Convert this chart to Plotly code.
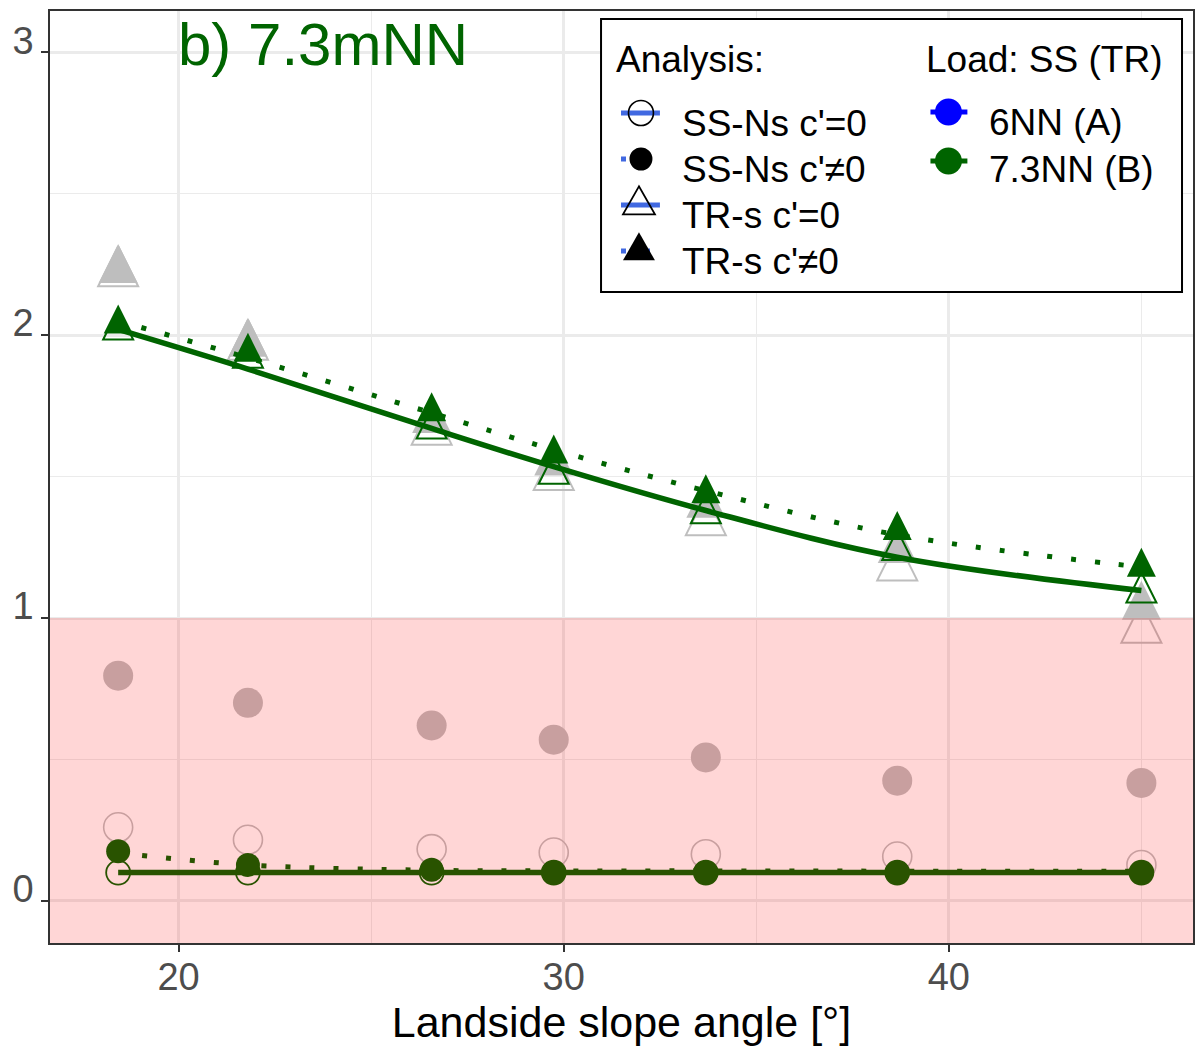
import plotly.graph_objects as go

# ---------------- data ----------------
angles = [18.43, 21.80, 26.57, 29.74, 33.69, 38.66, 45.00]

# 7.3NN (B) - green markers
ss_c0_73 = [0.10, 0.10, 0.10, 0.10, 0.10, 0.10, 0.10]
ss_c1_73 = [0.175, 0.127, 0.11, 0.10, 0.10, 0.10, 0.10]
tr_c0_73 = [2.02, 1.92, 1.67, 1.51, 1.37, 1.24, 1.09]
tr_c1_73 = [2.04, 1.94, 1.73, 1.58, 1.44, 1.31, 1.18]

# 7.3NN (B) - smoothed trend lines
ss_c0_73_fit = [0.10, 0.10, 0.10, 0.10, 0.10, 0.10, 0.10]
ss_c1_73_fit = [0.17, 0.127, 0.108, 0.106, 0.106, 0.105, 0.105]
tr_c0_73_fit = [2.02, 1.88, 1.67, 1.535, 1.38, 1.215, 1.097]
tr_c1_73_fit = [2.05, 1.92, 1.725, 1.595, 1.45, 1.294, 1.18]

# 6NN (A) - shown in grey
ss_c0_6 = [0.26, 0.216, 0.183, 0.171, 0.165, 0.157, 0.127]
ss_c1_6 = [0.796, 0.70, 0.62, 0.57, 0.507, 0.425, 0.417]
tr_c0_6 = [2.22, 1.96, 1.66, 1.50, 1.34, 1.18, 0.96]
tr_c1_6 = [2.23, 1.97, 1.70, 1.55, 1.40, 1.24, 1.04]

analysis_labels = ["SS-Ns c'=0", "SS-Ns c'\u22600", "TR-s c'=0", "TR-s c'\u22600"]
load_labels = ["6NN (A)", "7.3NN (B)"]
load_colors = ["#0000FF", "#006400"]

GREEN = "#006400"
GREY = "#BEBEBE"
FONT = "Liberation Sans, Arial, sans-serif"

W, H = 1197, 1053
ML, MR, MT, MB = 50, 2, 11, 110
PX0, PX1, PY0, PY1 = ML, W - MR, MT, H - MB


def pxx(x):
    return (x - PX0) / (PX1 - PX0)


def pxy(y):
    return (PY1 - y) / (PY1 - PY0)


def tri_marker(size, filled):
    # upward triangle centred (centroid) on the data point
    return dict(symbol="arrow-down" if filled else "arrow-down-open",
                angle=180, standoff=size * 2.0 / 3.0, size=size)


fig = go.Figure()

# grey (6NN) markers
fig.add_trace(go.Scatter(x=angles, y=ss_c0_6, mode="markers", showlegend=False,
                         marker=dict(symbol="circle-open", size=29, color=GREY,
                                     line=dict(width=1.6, color=GREY))))
fig.add_trace(go.Scatter(x=angles, y=ss_c1_6, mode="markers", showlegend=False,
                         marker=dict(symbol="circle", size=30, color=GREY,
                                     line=dict(width=0))))
m = tri_marker(40, False)
m.update(color=GREY, line=dict(width=2, color=GREY))
fig.add_trace(go.Scatter(x=angles, y=tr_c0_6, mode="markers", showlegend=False, marker=m))
m = tri_marker(39, True)
m.update(color=GREY, line=dict(width=0))
fig.add_trace(go.Scatter(x=angles, y=tr_c1_6, mode="markers", showlegend=False, marker=m))

# green open markers
fig.add_trace(go.Scatter(x=angles, y=ss_c0_73, mode="markers", showlegend=False,
                         marker=dict(symbol="circle-open", size=24, color=GREEN,
                                     line=dict(width=1.8, color=GREEN))))
m = tri_marker(30, False)
m.update(color=GREEN, line=dict(width=2, color=GREEN))
fig.add_trace(go.Scatter(x=angles, y=tr_c0_73, mode="markers", showlegend=False, marker=m))

# green trend lines
for ys, dash, w in [(ss_c0_73_fit, "solid", 5.5), (tr_c0_73_fit, "solid", 5.5),
                    (ss_c1_73_fit, "5px,19px", 5), (tr_c1_73_fit, "5px,19px", 5)]:
    fig.add_trace(go.Scatter(x=angles, y=ys, mode="lines", showlegend=False,
                             line=dict(color=GREEN, width=w, dash=dash,
                                       shape="spline", smoothing=1.0)))

# green filled markers
fig.add_trace(go.Scatter(x=angles, y=ss_c1_73, mode="markers", showlegend=False,
                         marker=dict(symbol="circle", size=24, color=GREEN,
                                     line=dict(width=0))))
m = tri_marker(29, True)
m.update(color=GREEN, line=dict(width=0))
fig.add_trace(go.Scatter(x=angles, y=tr_c1_73, mode="markers", showlegend=False, marker=m))

YMIN, YMAX = -0.149, 3.146
shapes = []
# unsafe zone (FoS < 1)
shapes.append(dict(type="rect", xref="paper", yref="y", x0=0, x1=1, y0=YMIN, y1=1.0,
                   fillcolor="rgba(255,0,0,0.16)", line=dict(width=0), layer="above"))
# legend box
shapes.append(dict(type="rect", xref="paper", yref="paper",
                   x0=pxx(602), x1=pxx(1184), y0=pxy(292), y1=pxy(19),
                   fillcolor="white", line=dict(color="black", width=2), layer="above"))

annotations = []
BLUE_LINE = "#4169E1"
LFS = 37
ana_sym_y = [113, 159, 205, 251]
ana_txt_y = [124, 170, 216, 262]
for i, lab in enumerate(analysis_labels):
    yy = ana_sym_y[i]
    dotted = i in (1, 3)
    shapes.append(dict(type="line", xref="paper", yref="paper",
                       x0=pxx(622), x1=pxx(661), y0=pxy(yy), y1=pxy(yy),
                       line=dict(color=BLUE_LINE, width=5,
                                 dash="5px,19px" if dotted else "solid"),
                       layer="above"))
    if i < 2:
        d = 25 if i == 0 else 23
        shapes.append(dict(type="circle", xref="paper", yref="paper",
                           x0=pxx(642 - d / 2), x1=pxx(642 + d / 2),
                           y0=pxy(yy + d / 2), y1=pxy(yy - d / 2),
                           fillcolor="black" if i == 1 else "rgba(0,0,0,0)",
                           line=dict(color="black", width=1.6 if i == 0 else 0),
                           layer="above"))
    else:
        cx, wdt, hgt = 640, 32, 28
        top, base = yy - hgt * 2 / 3, yy + hgt / 3
        path = "M{:.5f},{:.5f} L{:.5f},{:.5f} L{:.5f},{:.5f} Z".format(
            pxx(cx), pxy(top), pxx(cx - wdt / 2), pxy(base), pxx(cx + wdt / 2), pxy(base))
        shapes.append(dict(type="path", xref="paper", yref="paper", path=path,
                           fillcolor="black" if i == 3 else "rgba(0,0,0,0)",
                           line=dict(color="black", width=1.8 if i == 2 else 0),
                           layer="above"))
    annotations.append(dict(text=lab, xref="paper", yref="paper", x=pxx(681), y=pxy(ana_txt_y[i]),
                            xanchor="left", yanchor="middle", showarrow=False,
                            font=dict(size=LFS, color="black", family=FONT)))

load_sym_y = [112, 161]
load_txt_y = [123, 170]
for i, lab in enumerate(load_labels):
    yy = load_sym_y[i]
    c = load_colors[i]
    shapes.append(dict(type="line", xref="paper", yref="paper",
                       x0=pxx(932), x1=pxx(969), y0=pxy(yy), y1=pxy(yy),
                       line=dict(color=c, width=5), layer="above"))
    d = 27
    shapes.append(dict(type="circle", xref="paper", yref="paper",
                       x0=pxx(950 - d / 2), x1=pxx(950 + d / 2),
                       y0=pxy(yy + d / 2), y1=pxy(yy - d / 2),
                       fillcolor=c, line=dict(width=0), layer="above"))
    annotations.append(dict(text=lab, xref="paper", yref="paper", x=pxx(989), y=pxy(load_txt_y[i]),
                            xanchor="left", yanchor="middle", showarrow=False,
                            font=dict(size=LFS, color="black", family=FONT)))

annotations.append(dict(text="Analysis:", xref="paper", yref="paper", x=pxx(615), y=pxy(59),
                        xanchor="left", yanchor="middle", showarrow=False,
                        font=dict(size=LFS, color="black", family=FONT)))
annotations.append(dict(text="Load: SS (TR)", xref="paper", yref="paper", x=pxx(926), y=pxy(59),
                        xanchor="left", yanchor="middle", showarrow=False,
                        font=dict(size=LFS, color="black", family=FONT)))
# panel title
annotations.append(dict(text="b) 7.3mNN", xref="paper", yref="paper", x=pxx(176), y=pxy(45),
                        xanchor="left", yanchor="middle", showarrow=False,
                        font=dict(size=60, color=GREEN, family=FONT)))

axis_common = dict(
    showline=True, mirror=True, linecolor="#333333", linewidth=1.5,
    ticks="outside", ticklen=7, tickwidth=2, tickcolor="#333333",
    showgrid=True, gridcolor="#EBEBEB", gridwidth=2.6,
    zeroline=False,
    tickfont=dict(size=38, color="#4D4D4D", family=FONT),
)

fig.update_layout(
    width=W, height=H,
    margin=dict(l=ML, r=MR, t=MT, b=MB),
    paper_bgcolor="white", plot_bgcolor="white",
    font=dict(family=FONT),
    showlegend=False,
    shapes=shapes,
    annotations=annotations,
    xaxis=dict(range=[16.66, 46.34], tickvals=[20, 30, 40],
               minor=dict(tickvals=[25, 35, 45], showgrid=True, gridcolor="#EBEBEB",
                          gridwidth=1.3, ticks=""),
               ticklabelstandoff=-7,
               title=dict(text="Landside slope angle [\u00b0]",
                          font=dict(size=43, color="black", family=FONT), standoff=6),
               **axis_common),
    yaxis=dict(range=[YMIN, YMAX], tickvals=[0, 1, 2, 3],
               minor=dict(tickvals=[0.5, 1.5, 2.5], showgrid=True, gridcolor="#EBEBEB",
                          gridwidth=1.3, ticks=""),
               ticklabelshift=-12,
               **axis_common),
)

fig.write_html("out.html",
               config={"displayModeBar": False},
               post_script="document.body.style.margin='0px';"
                           "document.body.style.overflow='hidden';")
